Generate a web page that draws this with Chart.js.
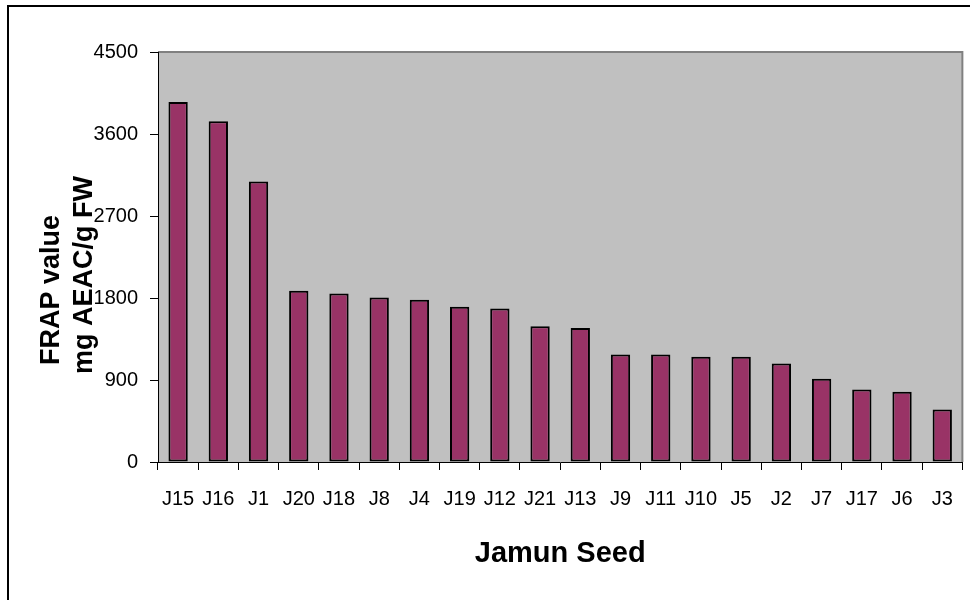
<!DOCTYPE html>
<html>
<head>
<meta charset="utf-8">
<script src="https://cdn.jsdelivr.net/npm/chart.js@4"></script>
<style>
  html, body { margin: 0; padding: 0; background: #ffffff; }
  #wrap { width: 970px; height: 600px; position: relative; }
</style>
</head>
<body>
<div id="wrap"><canvas id="c"></canvas></div>
<script>
const categories = ["J15","J16","J1","J20","J18","J8","J4","J19","J12","J21","J13","J9","J11","J10","J5","J2","J7","J17","J6","J3"];
const frapValues = [3950, 3740, 3080, 1880, 1850, 1805, 1780, 1705, 1685, 1490, 1470, 1180, 1180, 1155, 1155, 1080, 915, 795, 770, 575];
const yTicks = [0, 900, 1800, 2700, 3600, 4500];
const xTitle = "Jamun Seed";
const yTitleLines = ["FRAP value", "mg AEAC/g FW"];

const FONT = "'Liberation Sans', Arial, Helvetica, sans-serif";

const decorPlugin = {
  id: 'decor',
  beforeDraw(chart) {
    const { ctx, chartArea: a } = chart;
    ctx.save();
    ctx.fillStyle = '#ffffff';
    ctx.fillRect(0, 0, chart.width, chart.height);
    // outer frame
    ctx.strokeStyle = '#000000';
    ctx.lineWidth = 2;
    ctx.strokeRect(8, 6, chart.width + 10, chart.height + 10);
    // plot background
    ctx.fillStyle = '#C0C0C0';
    ctx.fillRect(a.left, a.top, a.right - a.left, a.bottom - a.top);
    // gray plot border (top / right)
    ctx.strokeStyle = '#808080';
    ctx.lineWidth = 2;
    ctx.beginPath();
    ctx.moveTo(a.left, a.top);
    ctx.lineTo(a.right, a.top);
    ctx.lineTo(a.right, a.bottom);
    ctx.stroke();
    ctx.restore();
  },
  afterDraw(chart) {
    const { ctx, chartArea: a } = chart;
    ctx.save();
    ctx.fillStyle = '#000000';
    ctx.font = "bold 27px " + FONT;
    ctx.textAlign = 'center';
    ctx.textBaseline = 'alphabetic';
    const mid = (a.top + a.bottom) / 2;
    const pos = [[59, mid + 33], [92, mid + 18]];
    yTitleLines.forEach((t, i) => {
      ctx.save();
      ctx.translate(pos[i][0], pos[i][1]);
      ctx.rotate(-Math.PI / 2);
      ctx.fillText(t, 0, 0);
      ctx.restore();
    });
    ctx.restore();
  }
};

new Chart(document.getElementById('c'), {
  type: 'bar',
  data: {
    labels: categories,
    datasets: [{
      label: 'FRAP value',
      data: frapValues,
      backgroundColor: '#993366',
      borderColor: '#000000',
      borderWidth: 2,
      borderSkipped: false,
      barPercentage: 0.48,
      categoryPercentage: 1.0
    }]
  },
  options: {
    responsive: true,
    maintainAspectRatio: false,
    animation: false,
    devicePixelRatio: 1,
    layout: { padding: { left: 0, top: 52, right: 7, bottom: 0 } },
    plugins: {
      legend: { display: false },
      tooltip: { enabled: false },
      title: { display: false }
    },
    scales: {
      x: {
        offset: true,
        grid: {
          display: true,
          offset: true,
          drawOnChartArea: false,
          drawTicks: true,
          tickLength: 8,
          tickColor: '#000000',
          tickWidth: 1
        },
        border: { display: true, color: '#000000', width: 1 },
        ticks: {
          color: '#000000',
          font: { family: FONT, size: 20 },
          padding: 17,
          maxRotation: 0,
          autoSkip: false
        },
        title: {
          display: true,
          text: xTitle,
          color: '#000000',
          font: { family: FONT, size: 29, weight: 'bold' },
          padding: { top: 0, bottom: 29 }
        },
        afterFit(scale) { scale.height = 138; }
      },
      y: {
        min: 0,
        max: 4500,
        afterBuildTicks(scale) { scale.ticks = yTicks.map(v => ({ value: v })); },
        grid: {
          display: true,
          drawOnChartArea: false,
          drawTicks: true,
          tickLength: 8,
          tickColor: '#000000',
          tickWidth: 1
        },
        border: { display: true, color: '#000000', width: 1 },
        ticks: {
          color: '#000000',
          font: { family: FONT, size: 20 },
          padding: 12,
          callback: (v) => String(v)
        },
        afterFit(scale) { scale.width = 158; }
      }
    }
  },
  plugins: [decorPlugin]
});
</script>
</body>
</html>
